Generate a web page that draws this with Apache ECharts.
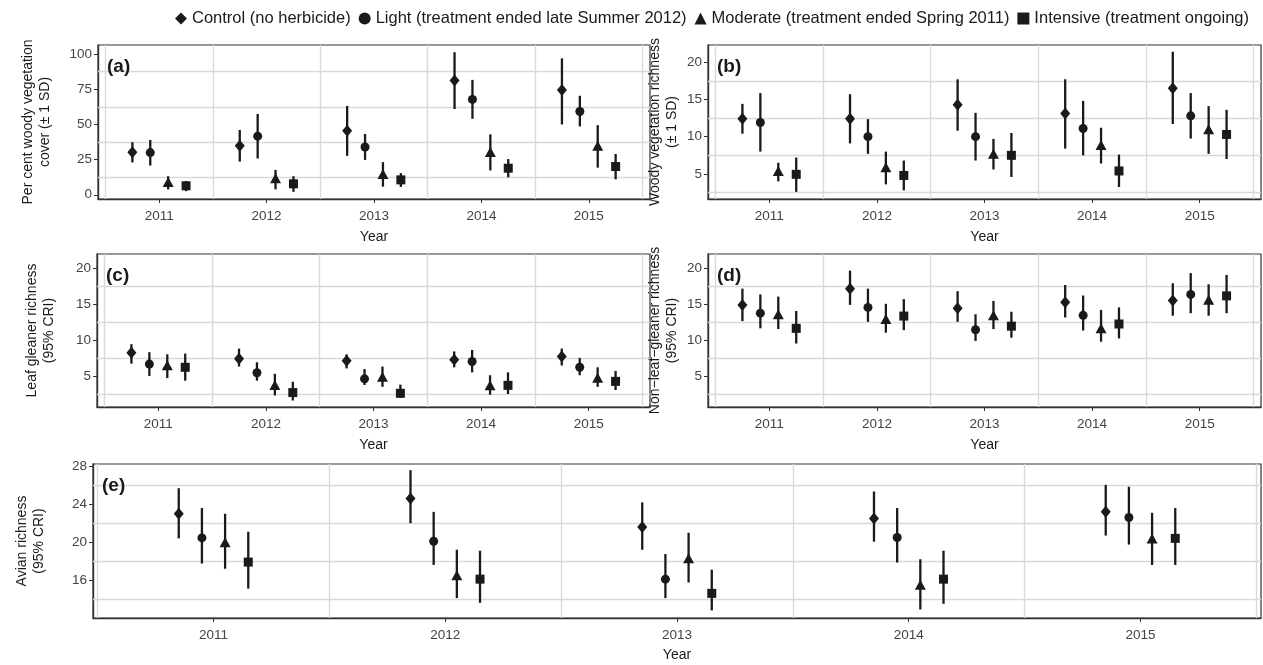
<!DOCTYPE html>
<html lang="en">
<head>
  <meta charset="UTF-8">
  <title>Woody cover and bird richness by herbicide treatment</title>
  <style>
    * {
      margin: 0;
      padding: 0;
    }
  </style>
  <script src="https://cdn.jsdelivr.net/npm/echarts@6/dist/echarts.min.js"></script>
</head>
<body>
  <div id="main" style="width: 1263px; height: 665px;"></div>
  <script>
    const years = [2011, 2012, 2013, 2014, 2015]
    const treatments = [
      'Control (no herbicide)',
      'Light (treatment ended late Summer 2012)',
      'Moderate (treatment ended Spring 2011)',
      'Intensive (treatment ongoing)'
    ]

    // rows = treatments (control, light, moderate, intensive), columns = years
    // (a) per cent woody vegetation cover, mean and +-1 SD
    const coverMean = [
      [30.3, 34.8, 45.5, 81.2, 74.5],
      [30.0, 41.7, 34.0, 67.8, 59.2],
      [9.0, 11.8, 14.8, 30.4, 34.8],
      [6.4, 7.8, 10.6, 18.9, 20.1]
    ]
    const coverLow = [
      [23.0, 23.6, 27.7, 61.0, 50.0],
      [20.8, 25.8, 24.8, 54.0, 48.6],
      [3.8, 3.9, 5.8, 17.3, 19.3],
      [2.6, 2.1, 5.6, 12.4, 11.0]
    ]
    const coverHigh = [
      [37.4, 46.1, 63.2, 101.4, 97.0],
      [39.0, 57.5, 43.2, 81.7, 70.4],
      [13.2, 17.7, 23.2, 43.0, 49.5],
      [9.8, 13.2, 15.4, 25.4, 29.0]
    ]

    // (b) woody vegetation richness, mean and +-1 SD
    const woodyMean = [
      [12.4, 12.4, 14.3, 13.1, 16.5],
      [11.9, 10.0, 10.0, 11.1, 12.8],
      [5.4, 5.9, 7.7, 8.9, 11.0],
      [4.95, 4.8, 7.5, 5.4, 10.3]
    ]
    const woodyLow = [
      [10.4, 9.1, 10.8, 8.4, 11.7],
      [8.0, 7.7, 6.8, 7.5, 9.75],
      [4.0, 3.6, 5.6, 6.4, 7.7],
      [2.6, 2.8, 4.6, 3.25, 7.0]
    ]
    const woodyHigh = [
      [14.4, 15.7, 17.7, 17.7, 21.4],
      [15.85, 12.35, 13.2, 14.8, 15.85],
      [6.5, 8.0, 9.7, 11.2, 14.1],
      [7.2, 6.8, 10.5, 7.6, 13.6]
    ]

    // (c) leaf gleaner richness, mean and 95% CRI
    const leafMean = [
      [8.3, 7.5, 7.2, 7.35, 7.8],
      [6.75, 5.55, 4.7, 7.1, 6.3],
      [6.6, 3.85, 5.0, 3.8, 4.85],
      [6.3, 2.8, 2.7, 3.8, 4.35]
    ]
    const leafLow = [
      [6.8, 6.4, 6.15, 6.3, 6.55],
      [5.1, 4.45, 3.85, 5.6, 5.2],
      [4.8, 2.4, 3.6, 2.5, 3.6],
      [4.45, 1.7, 2.05, 2.6, 3.15]
    ]
    const leafHigh = [
      [9.5, 8.9, 8.1, 8.5, 8.9],
      [8.4, 7.0, 6.05, 8.7, 7.6],
      [8.1, 5.4, 6.4, 5.2, 6.3],
      [8.2, 4.3, 3.9, 5.6, 5.8]
    ]

    // (d) non-leaf-gleaner richness, mean and 95% CRI
    const otherMean = [
      [14.95, 17.2, 14.5, 15.3, 15.55],
      [13.8, 14.6, 11.5, 13.5, 16.4],
      [13.65, 13.0, 13.5, 11.7, 15.65],
      [11.7, 13.4, 12.0, 12.3, 16.2]
    ]
    const otherLow = [
      [12.7, 14.95, 12.6, 13.2, 13.45],
      [11.7, 12.6, 9.95, 11.4, 13.8],
      [11.6, 11.1, 11.6, 9.85, 13.45],
      [9.6, 11.45, 10.4, 10.3, 13.8]
    ]
    const otherHigh = [
      [17.2, 19.7, 16.85, 17.7, 17.95],
      [16.4, 17.2, 13.65, 16.25, 19.35],
      [16.1, 15.1, 15.5, 14.25, 17.8],
      [14.1, 15.75, 14.0, 14.6, 19.1]
    ]

    // (e) avian richness, mean and 95% CRI
    const avianMean = [
      [23.0, 24.6, 21.6, 22.5, 23.2],
      [20.45, 20.1, 16.1, 20.5, 22.6],
      [20.0, 16.5, 18.3, 15.5, 20.4],
      [17.9, 16.1, 14.6, 16.1, 20.4]
    ]
    const avianLow = [
      [20.4, 22.0, 19.2, 20.05, 20.7],
      [17.75, 17.6, 14.1, 17.85, 19.75],
      [17.2, 14.1, 15.75, 12.9, 17.6],
      [15.1, 13.6, 12.8, 13.5, 17.6]
    ]
    const avianHigh = [
      [25.7, 27.6, 24.2, 25.35, 26.05],
      [23.6, 23.2, 18.75, 23.6, 25.85],
      [23.0, 19.2, 21.0, 18.2, 23.1],
      [21.1, 19.1, 17.1, 19.1, 23.6]
    ]

    const ink = '#1a1a1a'
    const gridColor = '#d9d9d9'
    const symbols = ['diamond', 'circle', 'triangle', 'rect']
    const symbolSizes = [[10, 12], 9, [11, 10], 9]

    const panels = [
      {
        letter: '(a)', mean: coverMean, low: coverLow, high: coverHigh,
        box: { left: 98, top: 45, width: 552, height: 154 }, xr: [2010.43, 2015.57],
        yr: [-3, 106.5], labels: [0, 25, 50, 75, 100], lines: [12.5, 37.5, 62.5, 87.5],
        name: 'Per cent woody vegetation\ncover (± 1 SD)', nameGap: 44, xGap: 31,
        dodge: [-0.25, -0.0833, 0.0833, 0.25]
      },
      {
        letter: '(b)', mean: woodyMean, low: woodyLow, high: woodyHigh,
        box: { left: 708, top: 45, width: 553, height: 154 }, xr: [2010.43, 2015.57],
        yr: [1.64, 22.3], labels: [5, 10, 15, 20], lines: [2.5, 7.5, 12.5, 17.5],
        name: 'Woody vegetation richness\n(± 1 SD)', nameGap: 27, xGap: 31,
        dodge: [-0.25, -0.0833, 0.0833, 0.25]
      },
      {
        letter: '(c)', mean: leafMean, low: leafLow, high: leafHigh,
        box: { left: 97, top: 254, width: 553, height: 153 }, xr: [2010.43, 2015.57],
        yr: [0.8, 22], labels: [5, 10, 15, 20], lines: [2.5, 7.5, 12.5, 17.5],
        name: 'Leaf gleaner richness\n(95% CRI)', nameGap: 39, xGap: 31,
        dodge: [-0.25, -0.0833, 0.0833, 0.25]
      },
      {
        letter: '(d)', mean: otherMean, low: otherLow, high: otherHigh,
        box: { left: 708, top: 254, width: 553, height: 153 }, xr: [2010.43, 2015.57],
        yr: [0.8, 22], labels: [5, 10, 15, 20], lines: [2.5, 7.5, 12.5, 17.5],
        name: 'Non−leaf−gleaner richness\n(95% CRI)', nameGap: 27, xGap: 31,
        dodge: [-0.25, -0.0833, 0.0833, 0.25]
      },
      {
        letter: '(e)', mean: avianMean, low: avianLow, high: avianHigh,
        box: { left: 93, top: 464, width: 1168, height: 154 }, xr: [2010.48, 2015.52],
        yr: [12, 28.25], labels: [16, 20, 24, 28], lines: [14, 18, 22, 26],
        name: 'Avian richness\n(95% CRI)', nameGap: 45, xGap: 30,
        dodge: [-0.15, -0.05, 0.05, 0.15]
      }
    ]

    const halfYears = [2010.5, 2011.5, 2012.5, 2013.5, 2014.5, 2015.5]

    const grids = []
    const xAxes = []
    const yAxes = []
    const series = []
    const graphics = []

    panels.forEach((p, i) => {
      grids.push(Object.assign({
        show: true, borderColor: '#333', borderWidth: 1.2, backgroundColor: '#fff'
      }, p.box))

      xAxes.push({
        type: 'value', gridIndex: i, min: p.xr[0], max: p.xr[1],
        name: 'Year', nameLocation: 'middle', nameGap: p.xGap,
        nameTextStyle: { color: ink, fontSize: 14 },
        axisLine: { onZero: false, lineStyle: { color: '#333', width: 1.4 } },
        axisTick: { customValues: years, length: 4, lineStyle: { color: '#333' } },
        axisLabel: { customValues: years, color: '#444', fontSize: 13.5, margin: 10, formatter: v => String(v) },
        splitLine: { show: false }
      })

      yAxes.push({
        type: 'value', gridIndex: i, min: p.yr[0], max: p.yr[1],
        name: p.name, nameLocation: 'middle', nameGap: p.nameGap,
        nameTextStyle: { color: ink, fontSize: 14, lineHeight: 17 },
        axisLine: { show: true, onZero: false, lineStyle: { color: '#333', width: 1.4 } },
        axisTick: { show: true, customValues: p.labels, length: 4, lineStyle: { color: '#333' } },
        axisLabel: { customValues: p.labels, color: '#444', fontSize: 13.5, margin: 6 },
        splitLine: { show: false }
      })

      // panel grid lines (between the labelled values), kept under the marks
      series.push({
        type: 'line', xAxisIndex: i, yAxisIndex: i, data: [], z: 1, silent: true,
        markLine: {
          z: 1, silent: true, symbol: 'none', label: { show: false }, animation: false,
          lineStyle: { color: gridColor, width: 1.4, type: 'solid' },
          data: p.lines.map(v => ({ yAxis: v })).concat(halfYears.map(v => ({ xAxis: v })))
        }
      })

      treatments.forEach((t, k) => {
        const bars = years.map((yr, j) => [yr + p.dodge[k], p.low[k][j], p.high[k][j]])
        const pts = years.map((yr, j) => [yr + p.dodge[k], p.mean[k][j]])

        series.push({
          type: 'custom', xAxisIndex: i, yAxisIndex: i, z: 3, silent: true,
          encode: { x: 0, y: [1, 2] },
          data: bars,
          renderItem: (params, api) => {
            const a = api.coord([api.value(0), api.value(2)])
            const b = api.coord([api.value(0), api.value(1)])
            return {
              type: 'line',
              shape: { x1: a[0], y1: a[1], x2: b[0], y2: b[1] },
              style: { stroke: ink, lineWidth: 2.3 }
            }
          }
        })

        series.push({
          type: 'scatter', name: t, xAxisIndex: i, yAxisIndex: i, z: 4,
          symbol: symbols[k], symbolSize: symbolSizes[k],
          itemStyle: { color: ink, opacity: 1 },
          data: pts
        })
      })

      graphics.push({
        type: 'text', left: p.box.left + 9, top: p.box.top + 12, z: 10,
        style: { text: p.letter, font: 'bold 19px "Liberation Sans", Arial, sans-serif', fill: ink }
      })
    })

    const chart = echarts.init(document.getElementById('main'))
    chart.setOption({
      animation: false,
      backgroundColor: '#fff',
      textStyle: { fontFamily: '"Liberation Sans", Arial, sans-serif' },
      legend: {
        data: treatments,
        top: 5,
        left: 170,
        itemWidth: 12,
        itemHeight: 12,
        itemGap: 8,
        textStyle: { color: ink, fontSize: 16.5 }
      },
      grid: grids,
      xAxis: xAxes,
      yAxis: yAxes,
      graphic: graphics,
      series: series
    })
  </script>
</body>
</html>
